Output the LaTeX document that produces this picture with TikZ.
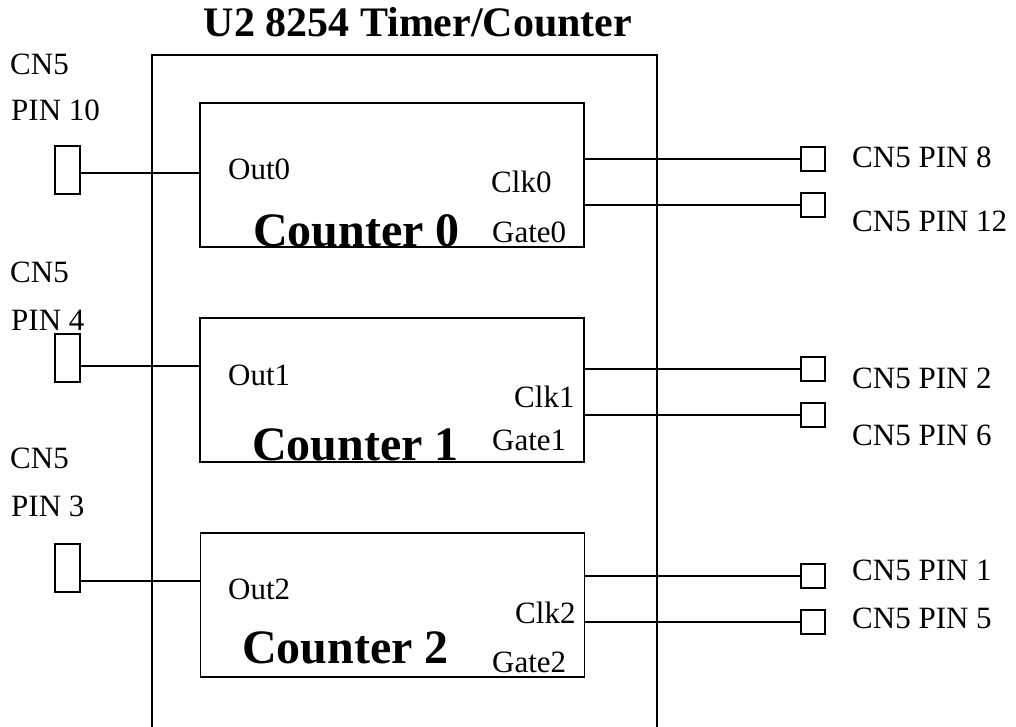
\documentclass[tikz,border=0pt]{standalone}
\usepackage{fontspec}
\setmainfont{Liberation Serif}
\usetikzlibrary{positioning}
\tikzset{
    counter/.style={draw, line width=1.5pt, minimum width=384pt, minimum height=144pt, inner sep=0pt}, % the three counter blocks
    pinbox/.style={draw, line width=2pt, minimum width=25pt, minimum height=48pt, inner sep=0pt}, % tall pins on the left
    jack/.style={draw, line width=2pt, minimum size=24pt, inner sep=0pt}, % small pins on the right
    lbl/.style={anchor=base west, inner sep=0pt, font=\fontsize{31}{36}\selectfont},
    cname/.style={anchor=base west, inner sep=0pt, font=\fontsize{48}{54}\selectfont\bfseries},
    wire/.style={line width=1.5pt}
}

\begin{document}
\begin{tikzpicture}[x=1pt, y=-1pt]
        \useasboundingbox (0,0) rectangle (1016,727);

        \node[anchor=base, inner sep=0pt, font=\fontsize{42}{48}\selectfont\bfseries] (title) at (418,37) {U2 8254 Timer/Counter};
        \draw[line width=1.5pt] (152,727) |- (657,55) -- (657,727);

        \node[counter] (cnt0) at (392,175) {};
        \node[counter] (cnt1) at (392,390) {};
        \node[counter] (cnt2) at (392.5,605) {};

        \node[cname] (name0) at (253,246) {Counter 0};
        \node[cname] (name1) at (252,460) {Counter 1};
        \node[cname] (name2) at (242,663) {Counter 2};

        \node[lbl] (out0) at (228,180) {Out0};
        \node[lbl] (out1) at (228,385) {Out1};
        \node[lbl] (out2) at (228,599) {Out2};
        \node[lbl] (clk0) at (491,193) {Clk0};
        \node[lbl] (clk1) at (514,407) {Clk1};
        \node[lbl] (clk2) at (515,623) {Clk2};
        \node[lbl] (gate0) at (492,242) {Gate0};
        \node[lbl] (gate1) at (492,450) {Gate1};
        \node[lbl] (gate2) at (492,672) {Gate2};

        \node[pinbox] (pin10) at (67.5,170) {};
        \node[pinbox] (pin4) at (67.5,357.5) {};
        \node[pinbox] (pin3) at (67.5,567.5) {};

        \node[lbl] (cn10) at (10,75) {CN5};
        \node[lbl] (pn10) at (11,121) {PIN 10};
        \node[lbl] (cn4) at (10,282) {CN5};
        \node[lbl] (pn4) at (11,330) {PIN 4};
        \node[lbl] (cn3) at (10,468) {CN5};
        \node[lbl] (pn3) at (11,516) {PIN 3};

        \node[jack] (j8) at (812.5,159) {};
        \node[jack] (j12) at (812.5,205) {};
        \node[jack] (j2) at (812.5,369) {};
        \node[jack] (j6) at (812.5,415) {};
        \node[jack] (j1) at (812.5,576) {};
        \node[jack] (j5) at (812.5,622) {};

        \node[lbl] (l8) at (852,168) {CN5 PIN 8};
        \node[lbl] (l12) at (852,232) {CN5 PIN 12};
        \node[lbl] (l2) at (852,388) {CN5 PIN 2};
        \node[lbl] (l6) at (852,445) {CN5 PIN 6};
        \node[lbl] (l1) at (852,580) {CN5 PIN 1};
        \node[lbl] (l5) at (852,628) {CN5 PIN 5};

        % outputs to the left pins
        \draw[wire] ([yshift=-3pt]pin10.east) -- ([yshift=-3pt]pin10.east -| cnt0.west);
        \draw[wire] ([yshift=-8.5pt]pin4.east) -- ([yshift=-8.5pt]pin4.east -| cnt1.west);
        \draw[wire] ([yshift=-13.5pt]pin3.east) -- ([yshift=-13.5pt]pin3.east -| cnt2.west);

        % clock and gate to the right pins
        \draw[wire] (j8.west -| cnt0.east) -- (j8.west);
        \draw[wire] (j12.west -| cnt0.east) -- (j12.west);
        \draw[wire] (j2.west -| cnt1.east) -- (j2.west);
        \draw[wire] (j6.west -| cnt1.east) -- (j6.west);
        \draw[wire] (j1.west -| cnt2.east) -- (j1.west);
        \draw[wire] (j5.west -| cnt2.east) -- (j5.west);
    \end{tikzpicture}
\end{document}
